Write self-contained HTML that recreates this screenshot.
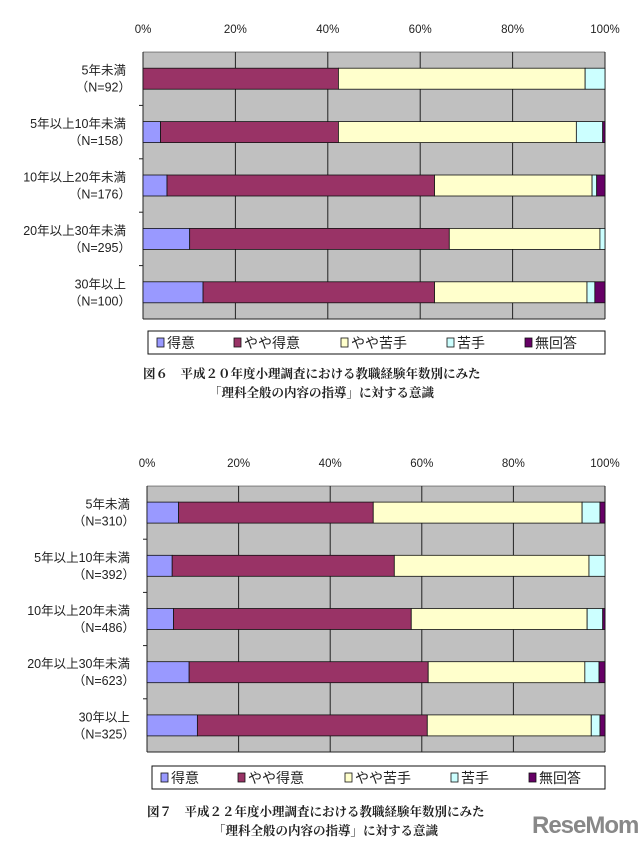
<!DOCTYPE html>
<html><head><meta charset="utf-8"><style>
body{margin:0;background:#fff;}
svg{display:block;font-family:"Liberation Sans","Noto Sans CJK JP",sans-serif;}
.cap{font-family:"Liberation Serif","Noto Serif CJK SC",serif;font-weight:bold;font-size:12.5px;fill:#222;}
</style></head><body>
<svg id="chart" width="643" height="846" viewBox="0 0 643 846"></svg>
<script>
const categories=["5年未満","5年以上10年未満","10年以上20年未満","20年以上30年未満","30年以上"];
const nLabels1=["（N=92）","（N=158）","（N=176）","（N=295）","（N=100）"];
const nLabels2=["（N=310）","（N=392）","（N=486）","（N=623）","（N=325）"];
const seriesNames=["得意","やや得意","やや苦手","苦手","無回答"];
const seriesColors=["#9999ff","#993366","#ffffcc","#ccffff","#660066"];
const tickLabels=["0%","20%","40%","60%","80%","100%"];
const tickValues=[0,20,40,60,80,100];
// chart 1 (平成20年度)
const c1Tokui=[0,3.8,5.2,10.1,13.0];
const c1Yaya=[42.3,38.5,57.9,56.2,50.1];
const c1YayaNigate=[53.4,51.5,34.1,32.6,33.0];
const c1Nigate=[4.3,5.7,1.0,1.1,1.7];
const c1Mukaitou=[0,0.5,1.8,0,2.2];
// chart 2 (平成22年度)
const c2Tokui=[6.9,5.5,5.8,9.2,11.0];
const c2Yaya=[42.5,48.5,51.9,52.2,50.2];
const c2YayaNigate=[45.6,42.5,38.4,34.2,35.8];
const c2Nigate=[3.9,3.5,3.4,3.1,1.9];
const c2Mukaitou=[1.1,0,0.5,1.3,1.1];

const NS="http://www.w3.org/2000/svg";
const svg=document.getElementById('chart');
function mk(tag,attrs,parent,text){const e=document.createElementNS(NS,tag);for(const k in attrs)e.setAttribute(k,attrs[k]);if(text!==undefined)e.textContent=text;(parent||svg).appendChild(e);return e;}

function drawChart(id,L,R,T,B,series,nLabels,legendY,capY,capText){
  const g=mk('g',{});
  
  
  const x=v=>L+(R-L)*v/100;
  const band=(B-T)/categories.length;
  const bg=mk('rect',{x:L,y:T,width:R-L,height:B-T,fill:'#c0c0c0'},g);
  
  
  tickValues.forEach((v,i)=>{
    const ln=mk('line',{x1:x(v),x2:x(v),y1:T,y2:B,stroke:'#222','stroke-width':1},g);
    
    
    const t=mk('text',{x:x(v),y:T-19,'font-size':11.5,'text-anchor':'middle',fill:'#222'},g,tickLabels[i]);
    
    
  });
  mk('line',{x1:L,x2:R,y1:B,y2:B,stroke:'#222'},g);
  mk('line',{x1:L,x2:R,y1:T,y2:T,stroke:'#222','stroke-width':0.6},g);
  for(let i=1;i<categories.length;i++){
    const ty=T+band*i;
    mk('line',{x1:L-4,x2:L,y1:ty,y2:ty,stroke:'#222'},g);
  }
  categories.forEach((c,i)=>{
    const cy=T+band*(i+0.5);
    const bh=21;
    let acc=0;
    series.forEach((s,k)=>{
      const v=s[i];
      if(v>0){
        const r=mk('rect',{x:x(acc),y:cy-bh/2,width:x(acc+v)-x(acc),height:bh,fill:seriesColors[k],stroke:'#111','stroke-width':0.8},g);
        
        
      }
      acc+=v;
    });
    const t1=mk('text',{x:L-17,y:cy-4,'font-size':12.5,'text-anchor':'end',fill:'#222'},g,c);
    
    
    const t2=mk('text',{x:L-12,y:cy+13,'font-size':12.5,'text-anchor':'end',fill:'#222'},g,nLabels[i]);
    
    
  });
  const lg=mk('g',{},g);
  
  
  mk('rect',{x:L+5,y:legendY,width:R-L-5,height:23,fill:'#fff',stroke:'#111'},lg);
  const lx=[L+24,L+101,L+208,L+314,L+392];
  seriesNames.forEach((n,k)=>{
    const sw=mk('rect',{x:lx[k]-10,y:legendY+7,width:7,height:9,fill:seriesColors[k],stroke:'#111','stroke-width':0.8},lg);
    
    
    const t=mk('text',{x:lx[k],y:legendY+17,'font-size':14,fill:'#222'},lg,n);
    
    
  });
  const ca=mk('text',{x:L,y:capY,class:'cap'},g,capText[0]);
  
  
  const cb=mk('text',{x:L+66,y:capY+19,class:'cap'},g,capText[1]);
  
  
}
drawChart('chart-h20',143,605,52,319,[c1Tokui,c1Yaya,c1YayaNigate,c1Nigate,c1Mukaitou],nLabels1,331,378,["図６　平成２０年度小理調査における教職経験年数別にみた","「理科全般の内容の指導」に対する意識"]);
drawChart('chart-h22',147,605,486,752,[c2Tokui,c2Yaya,c2YayaNigate,c2Nigate,c2Mukaitou],nLabels2,766,816,["図７　平成２２年度小理調査における教職経験年数別にみた","「理科全般の内容の指導」に対する意識"]);
const logo=mk('text',{x:532,y:833,'font-size':24,'font-weight':'bold',fill:'#888','letter-spacing':'-1'},svg,'ReseMom');


</script>
</body></html>
